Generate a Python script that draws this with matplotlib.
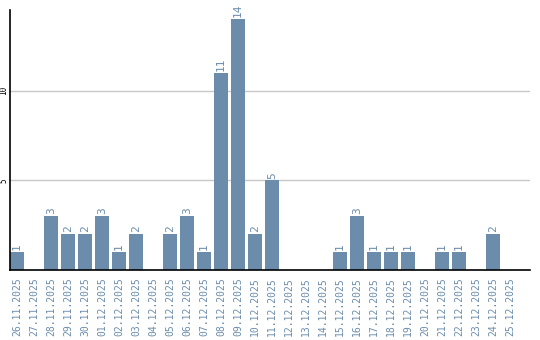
import matplotlib
matplotlib.use("Agg")
import matplotlib.pyplot as plt

dates = ["26.11.2025", "27.11.2025", "28.11.2025", "29.11.2025", "30.11.2025",
         "01.12.2025", "02.12.2025", "03.12.2025", "04.12.2025", "05.12.2025",
         "06.12.2025", "07.12.2025", "08.12.2025", "09.12.2025", "10.12.2025",
         "11.12.2025", "12.12.2025", "13.12.2025", "14.12.2025", "15.12.2025",
         "16.12.2025", "17.12.2025", "18.12.2025", "19.12.2025", "20.12.2025",
         "21.12.2025", "22.12.2025", "23.12.2025", "24.12.2025", "25.12.2025"]
values = [1, 0, 3, 2, 2, 3, 1, 2, 0, 2, 3, 1, 11, 14, 2, 5, 0, 0, 0, 1,
          3, 1, 1, 1, 0, 1, 1, 0, 2, 0]
yticks = [5, 10]

bar_color = "#6b8cab"
text_color = "#6b8cab"

fig = plt.figure(figsize=(5.4, 3.4), dpi=100)
ax = fig.add_axes([10/540, 70/340, 520/540, 260/340])
x = list(range(len(dates)))
ax.bar(x, values, width=0.82, color=bar_color, zorder=2)
for xi, v in zip(x, values):
    if v > 0:
        ax.text(xi, v + 0.1, str(v), rotation=90, ha="center", va="bottom",
                color=text_color, fontsize=8, family="DejaVu Sans Mono")

ax.set_xlim(-0.41, 30.18)
ax.set_ylim(0, 14.5)
ax.set_yticks(yticks)
ax.set_yticklabels([str(t) for t in yticks], rotation=90, va="center",
                   fontsize=5.5, family="DejaVu Sans Mono")
ax.yaxis.grid(True, color="#c8c8c8", linewidth=1, zorder=0)
ax.set_xticks(x)
ax.set_xticklabels(dates, rotation=90, fontsize=7, color=text_color,
                   family="DejaVu Sans Mono")
ax.tick_params(axis="both", length=0)
ax.tick_params(axis="x", pad=5)
ax.tick_params(axis="y", pad=1)
for s in ["top", "right"]:
    ax.spines[s].set_visible(False)
for s in ["left", "bottom"]:
    ax.spines[s].set_color("black")
    ax.spines[s].set_linewidth(1.2)
    ax.spines[s].set_zorder(3)

fig.savefig("out.png", dpi=100)
